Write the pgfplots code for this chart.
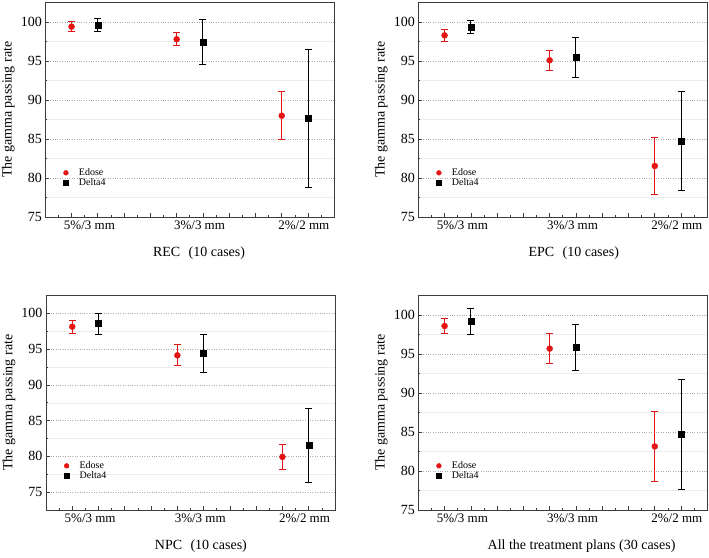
\documentclass[border=0pt]{standalone}
\usepackage{pgfplots}
\pgfplotsset{compat=1.18}
\usepackage{fontspec}
\setmainfont{Liberation Serif}
\definecolor{ered}{RGB}{228,20,20}
\definecolor{axgray}{RGB}{60,60,60}
\pgfplotsset{
 panel/.style={
  scale only axis, width=289pt, height=214.5pt,
  xmin=0, xmax=11, ymin=75, ymax=102.5,
  xtick={0,...,11}, xticklabels={}, minor x tick num=1,
  ytick={75,80,...,100}, minor y tick num=1,
  tick align=inside, tick pos=left,
  major tick length=4pt, minor tick length=2pt,
  ymajorgrids, yminorgrids,
  major grid style={gray!65, dotted, line width=0.6pt},
  minor grid style={gray!15, line width=0.5pt},
  axis line style={axgray, line width=0.9pt},
  tick style={axgray, line width=0.7pt},
  /pgf/number format/assume math mode=true,
  xticklabel style={font=\fontsize{13}{13}\selectfont},
  yticklabel style={font=\fontsize{14}{14}\selectfont},
  label style={font=\fontsize{14}{14}\selectfont},
  ylabel={The gamma passing rate},
  ylabel style={at={(axis description cs:-0.128,0.5)}, anchor=center},
  extra x ticks={1.68,5.87,9.84},
  extra x tick labels={5\%/3 mm,3\%/3 mm,2\%/2 mm},
  extra x tick style={major tick length=0pt, grid=none},
  legend style={at={(axis description cs:0.035,0.125)}, anchor=south west, draw=none, fill=none,
    font=\fontsize{10}{10}\selectfont, row sep=-2.5pt, inner sep=1pt},
  legend cell align=left,
 },
 myleg/.style={legend image code/.code={\path (0cm,0cm) (0.7cm,0cm); \draw[##1, mark size=2.4pt] plot coordinates {(0.32cm,0cm)};}},
 edose/.style={only marks, myleg, mark=*, color=ered, mark size=3pt,
  mark options={fill=ered, draw=ered},
  error bars/.cd, y dir=both, y explicit,
  error bar style={line width=1pt, ered},
  error mark options={rotate=90, ered, mark size=3.5pt, line width=1pt}},
 delta/.style={only marks, myleg, mark=square*, color=black, mark size=3pt,
  mark options={fill=black, draw=black},
  error bars/.cd, y dir=both, y explicit,
  error bar style={line width=1pt, black},
  error mark options={rotate=90, black, mark size=3.5pt, line width=1pt}},
}
\begin{document}
\begin{tikzpicture}
\useasboundingbox (0,0) rectangle (709pt,557pt);
% REC
\begin{axis}[panel, at={(45.3pt,340pt)}, anchor=south west,
  xlabel={REC\hspace{0.6em}(10 cases)},
  xlabel style={at={(axis description cs:0.532,-0.168)}, anchor=center}]
\addplot[edose] coordinates {(1,99.40) +- (0,0.62) (5,97.79) +- (0,0.83) (9,87.99) +- (0,3.09)};
\addlegendentry{Edose}
\addplot[delta] coordinates {(2,99.62) +- (0,0.87) (6,97.44) +- (0,2.90) (10,87.61) +- (0,8.80)};
\addlegendentry{Delta4}
\end{axis}
% EPC
\begin{axis}[panel, at={(418.3pt,340pt)}, anchor=south west,
  xlabel={EPC\hspace{0.6em}(10 cases)},
  xlabel style={at={(axis description cs:0.538,-0.168)}, anchor=center}]
\addplot[edose] coordinates {(1,98.29) +- (0,0.75) (5,95.09) +- (0,1.26) (9,81.54) +- (0,3.65)};
\addlegendentry{Edose}
\addplot[delta] coordinates {(2,99.36) +- (0,0.85) (6,95.43) +- (0,2.58) (10,84.74) +- (0,6.32)};
\addlegendentry{Delta4}
\end{axis}
% NPC
\begin{axis}[panel, at={(46pt,47pt)}, anchor=south west, ymin=72.5,
  xlabel={NPC\hspace{0.6em}(10 cases)},
  xlabel style={at={(axis description cs:0.536,-0.168)}, anchor=center}]
\addplot[edose] coordinates {(1,98.14) +- (0,0.91) (5,94.13) +- (0,1.47) (9,79.93) +- (0,1.79)};
\addlegendentry{Edose}
\addplot[delta] coordinates {(2,98.56) +- (0,1.47) (6,94.37) +- (0,2.70) (10,81.52) +- (0,5.24)};
\addlegendentry{Delta4}
\end{axis}
% All
\begin{axis}[panel, at={(418.3pt,47pt)}, anchor=south west,
  xlabel={All the treatment plans (30 cases)},
  xlabel style={at={(axis description cs:0.565,-0.168)}, anchor=center}]
\addplot[edose] coordinates {(1,98.59) +- (0,0.92) (5,95.69) +- (0,1.96) (9,83.15) +- (0,4.50)};
\addlegendentry{Edose}
\addplot[delta] coordinates {(2,99.15) +- (0,1.62) (6,95.82) +- (0,2.90) (10,84.73) +- (0,7.04)};
\addlegendentry{Delta4}
\end{axis}
\end{tikzpicture}
\end{document}
